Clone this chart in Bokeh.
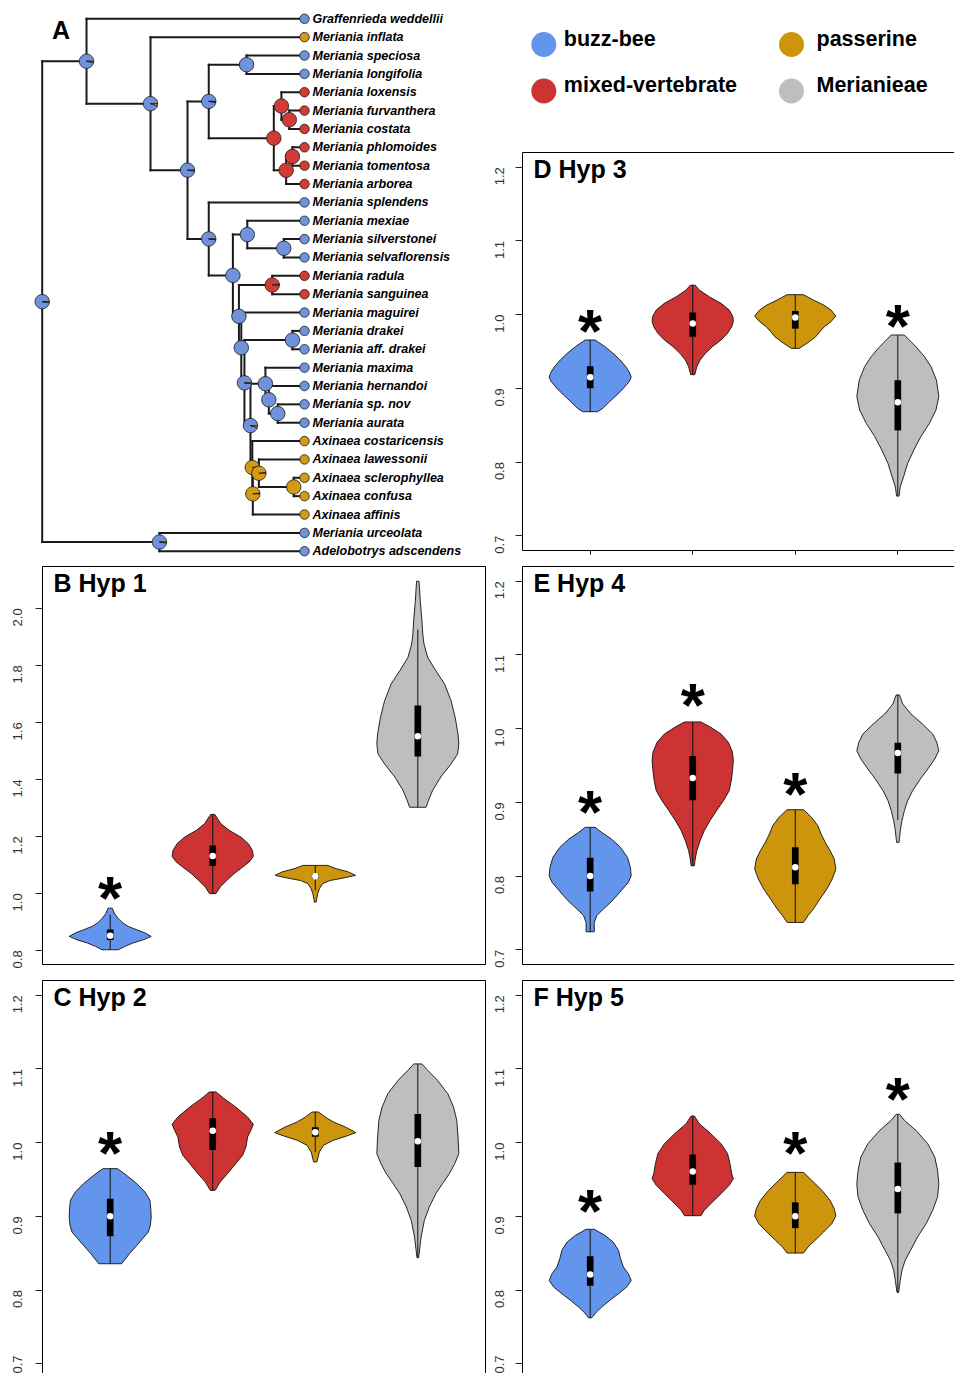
import math
from bokeh.plotting import figure
from bokeh.layouts import row, column
from bokeh.models import Range1d, LinearAxis, FixedTicker, ColumnDataSource
from bokeh.core.properties import value
from bokeh.embed import file_html
from bokeh.resources import INLINE

FONT = "Liberation Sans"

# ---------------------------------------------------------------- groups
group_names = ["buzz-bee", "mixed-vertebrate", "passerine", "Merianieae"]
group_colors = ["#6495ED", "#CD3333", "#CD950C", "#BEBEBE"]
categories = [1, 2, 3, 4]

# ---------------------------------------------------------------- tree data (panel A)
tip_names = [
    "Graffenrieda weddellii", "Meriania inflata", "Meriania speciosa", "Meriania longifolia",
    "Meriania loxensis", "Meriania furvanthera", "Meriania costata", "Meriania phlomoides",
    "Meriania tomentosa", "Meriania arborea", "Meriania splendens", "Meriania mexiae",
    "Meriania silverstonei", "Meriania selvaflorensis", "Meriania radula", "Meriania sanguinea",
    "Meriania maguirei", "Meriania drakei", "Meriania aff. drakei", "Meriania maxima",
    "Meriania hernandoi", "Meriania sp. nov", "Meriania aurata", "Axinaea costaricensis",
    "Axinaea lawessonii", "Axinaea sclerophyllea", "Axinaea confusa", "Axinaea affinis",
    "Meriania urceolata", "Adelobotrys adscendens",
]
# 0 = buzz-bee, 1 = mixed-vertebrate, 2 = passerine
tip_states = [0, 2, 0, 0, 1, 1, 1, 1, 1, 1, 0, 0, 0, 0, 1, 1, 0, 0, 0, 0, 0, 0, 0, 2, 2, 2, 2, 2, 0, 0]

# internal nodes: name, children (tips are "t<index>"), depth (root=0, tips=1), state probs [bee, vert, passerine]
node_names = ["root", "n1", "n2", "n3", "n4", "n6", "n7", "n8", "n10", "n9", "n11", "n5", "n12", "n13",
              "n13b", "n14", "n15", "n16", "n17", "n23", "n18", "n24", "n25", "n26", "n19", "n20",
              "n21", "n22", "nout"]
node_children = [
    ["n1", "nout"], ["t1", "n2"], ["t2", "n3"], ["n4", "n5"], ["n6", "n7"], ["t3", "t4"],
    ["n8", "n9"], ["t5", "n10"], ["t6", "t7"], ["n11", "t10"], ["t8", "t9"], ["t11", "n12"],
    ["n13", "n14"], ["t12", "n13b"], ["t13", "t14"], ["n15", "n16"], ["t15", "t16"],
    ["t17", "n17"], ["n23", "n18"], ["t18", "t19"], ["n24", "n19"], ["t20", "n25"],
    ["t21", "n26"], ["t22", "t23"], ["t24", "n20"], ["n21", "t28"], ["t25", "n22"],
    ["t26", "t27"], ["t29", "t30"],
]
node_depth = [0.0, 0.169, 0.413, 0.554, 0.635, 0.779, 0.883, 0.912, 0.942, 0.930, 0.954, 0.635,
              0.727, 0.782, 0.921, 0.750, 0.877, 0.759, 0.771, 0.954, 0.794, 0.851, 0.864,
              0.898, 0.801, 0.803, 0.826, 0.959, 0.447]
node_pie = [
    [0.98, 0.0, 0.02], [0.97, 0.0, 0.03], [0.95, 0.0, 0.05], [0.98, 0.0, 0.02], [0.98, 0.01, 0.01],
    [1, 0, 0], [0, 1, 0], [0, 1, 0], [0, 1, 0], [0, 1, 0], [0, 1, 0], [0.98, 0.0, 0.02],
    [1, 0, 0], [1, 0, 0], [1, 0, 0], [1, 0, 0], [0.02, 0.98, 0.0], [1, 0, 0], [0.98, 0.0, 0.02],
    [1, 0, 0], [0.95, 0.0, 0.05], [1, 0, 0], [1, 0, 0], [1, 0, 0], [0.02, 0.0, 0.98],
    [0.02, 0.0, 0.98], [0.02, 0.0, 0.98], [0, 0, 1], [0.98, 0.0, 0.02],
]

# ---------------------------------------------------------------- violin data
# outlines: value along y, relative density (1 = widest point); box stats per group
B_y = [
    [0.802, 0.814, 0.826, 0.837, 0.849, 0.861, 0.872, 0.884, 0.896, 0.911, 0.928, 0.948],
    [0.999, 1.022, 1.045, 1.069, 1.092, 1.110, 1.129, 1.150, 1.174, 1.197, 1.221, 1.244, 1.277],
    [0.969, 0.999, 1.016, 1.034, 1.045, 1.055, 1.063, 1.075, 1.086, 1.098],
    [1.302, 1.326, 1.361, 1.408, 1.454, 1.489, 1.524, 1.559, 1.618, 1.676, 1.735, 1.781, 1.828,
     1.875, 1.910, 1.957, 2.027, 2.095],
]
B_d = [
    [0.20, 0.36, 0.56, 0.81, 1.00, 0.85, 0.65, 0.44, 0.31, 0.20, 0.11, 0.05],
    [0.08, 0.18, 0.34, 0.52, 0.73, 0.89, 0.99, 0.97, 0.87, 0.69, 0.40, 0.20, 0.05],
    [0.02, 0.06, 0.10, 0.18, 0.36, 0.73, 0.98, 0.81, 0.52, 0.30],
    [0.20, 0.26, 0.36, 0.56, 0.81, 0.97, 1.00, 0.98, 0.91, 0.81, 0.65, 0.44, 0.24, 0.15, 0.12,
     0.10, 0.06, 0.03],
]
B_lo = [0.802, 0.999, 1.010, 1.302]
B_q1 = [0.836, 1.096, 1.051, 1.480]
B_med = [0.851, 1.131, 1.060, 1.551]
B_q3 = [0.873, 1.168, 1.068, 1.659]
B_hi = [0.925, 1.277, 1.098, 1.925]
B_star_groups = [1]
B_star_y = [1.016]

C_y = [
    [0.8357, 0.8493, 0.8606, 0.8697, 0.8787, 0.8878, 0.8991, 0.9104, 0.9217, 0.9330, 0.9443, 0.9557, 0.9647],
    [0.9353, 0.9466, 0.9579, 0.9715, 0.9828, 0.9941, 1.0077, 1.0167, 1.0249, 1.0348, 1.0484, 1.0597, 1.0688],
    [0.9738, 0.9873, 0.9964, 1.0032, 1.0091, 1.0136, 1.0213, 1.0281, 1.0348, 1.0416],
    [0.8439, 0.8719, 0.8946, 0.9127, 0.9308, 0.9443, 0.9579, 0.9715, 0.9851, 1.0077, 1.0303, 1.0484,
     1.0665, 1.0846, 1.0982, 1.1068],
]
C_d = [
    [0.28, 0.47, 0.65, 0.79, 0.93, 0.98, 1.00, 0.99, 0.97, 0.85, 0.65, 0.40, 0.18],
    [0.06, 0.18, 0.36, 0.56, 0.73, 0.81, 0.85, 0.93, 0.99, 0.85, 0.56, 0.28, 0.08],
    [0.04, 0.10, 0.20, 0.44, 0.77, 0.99, 0.73, 0.44, 0.24, 0.08],
    [0.02, 0.08, 0.16, 0.28, 0.44, 0.60, 0.77, 0.90, 1.00, 0.98, 0.95, 0.87, 0.73, 0.48, 0.24, 0.10],
]
C_lo = [0.836, 0.935, 0.987, 0.844]
C_q1 = [0.873, 0.990, 1.008, 0.967]
C_med = [0.900, 1.016, 1.014, 1.002]
C_q3 = [0.924, 1.033, 1.021, 1.039]
C_hi = [0.965, 1.069, 1.042, 1.107]
C_star_groups = [1]
C_star_y = [0.998]

D_y = [
    [0.8683, 0.8729, 0.8819, 0.8910, 0.9000, 0.9091, 0.9149, 0.9204, 0.9294, 0.9385, 0.9475, 0.9566, 0.9656],
    [0.9186, 0.9294, 0.9385, 0.9475, 0.9566, 0.9656, 0.9747, 0.9837, 0.9905, 0.9973, 1.0063, 1.0154,
     1.0244, 1.0335, 1.0400],
    [0.9543, 0.9633, 0.9701, 0.9769, 0.9837, 0.9905, 0.9982, 1.0063, 1.0131, 1.0199, 1.0271],
    [0.7538, 0.7665, 0.7801, 0.7982, 0.8163, 0.8344, 0.8525, 0.8706, 0.8887, 0.9113, 0.9294, 0.9430,
     0.9566, 0.9656, 0.9724],
]
D_d = [
    [0.18, 0.31, 0.47, 0.65, 0.81, 0.95, 1.00, 0.97, 0.87, 0.73, 0.56, 0.36, 0.12],
    [0.05, 0.10, 0.18, 0.31, 0.48, 0.69, 0.85, 0.95, 0.99, 0.98, 0.89, 0.69, 0.40, 0.16, 0.06],
    [0.10, 0.34, 0.50, 0.60, 0.71, 0.87, 0.99, 0.87, 0.69, 0.44, 0.20],
    [0.03, 0.06, 0.14, 0.24, 0.39, 0.56, 0.77, 0.93, 1.00, 0.94, 0.81, 0.65, 0.44, 0.28, 0.16],
]
D_lo = [0.868, 0.919, 0.954, 0.754]
D_q1 = [0.900, 0.970, 0.981, 0.843]
D_med = [0.915, 0.988, 0.996, 0.881]
D_q3 = [0.930, 1.003, 1.005, 0.911]
D_hi = [0.966, 1.040, 1.027, 0.972]
D_star_groups = [1, 4]
D_star_y = [0.990, 0.997]

E_y = [
    [0.7244, 0.7371, 0.7462, 0.7552, 0.7643, 0.7733, 0.7824, 0.7914, 0.8004, 0.8118, 0.8253, 0.8389,
     0.8502, 0.8593, 0.8661],
    [0.8140, 0.8231, 0.8344, 0.8480, 0.8615, 0.8751, 0.8887, 0.9023, 0.9158, 0.9294, 0.9430, 0.9566,
     0.9679, 0.9814, 0.9928, 1.0018, 1.0091],
    [0.7371, 0.7462, 0.7552, 0.7688, 0.7824, 0.7959, 0.8095, 0.8231, 0.8344, 0.8457, 0.8570, 0.8683,
     0.8796, 0.8900],
    [0.8457, 0.8615, 0.8751, 0.8887, 0.9023, 0.9158, 0.9317, 0.9452, 0.9588, 0.9701, 0.9814, 0.9928,
     1.0063, 1.0199, 1.0335, 1.0457],
]
E_d = [
    [0.10, 0.10, 0.16, 0.32, 0.50, 0.65, 0.79, 0.93, 1.00, 0.98, 0.91, 0.74, 0.52, 0.28, 0.12],
    [0.04, 0.06, 0.10, 0.18, 0.28, 0.42, 0.58, 0.75, 0.89, 0.94, 0.97, 0.99, 0.97, 0.87, 0.69, 0.44, 0.20],
    [0.20, 0.31, 0.44, 0.60, 0.77, 0.90, 0.99, 0.95, 0.85, 0.73, 0.63, 0.55, 0.40, 0.20],
    [0.03, 0.06, 0.10, 0.16, 0.24, 0.36, 0.55, 0.73, 0.90, 1.00, 0.95, 0.85, 0.60, 0.32, 0.12, 0.04],
]
E_lo = [0.724, 0.814, 0.737, 0.876]
E_q1 = [0.779, 0.903, 0.789, 0.939]
E_med = [0.800, 0.933, 0.812, 0.967]
E_q3 = [0.825, 0.963, 0.839, 0.981]
E_hi = [0.866, 1.009, 0.890, 1.046]
E_star_groups = [1, 2, 3]
E_star_y = [0.899, 1.044, 0.924]

F_y = [
    [0.7624, 0.7701, 0.7769, 0.7860, 0.7950, 0.8041, 0.8131, 0.8222, 0.8312, 0.8426, 0.8539, 0.8652,
     0.8742, 0.8824],
    [0.9009, 0.9081, 0.9172, 0.9308, 0.9421, 0.9511, 0.9579, 0.9715, 0.9851, 0.9986, 1.0122, 1.0258, 1.0362],
    [0.8502, 0.8584, 0.8674, 0.8787, 0.8900, 0.9005, 0.9104, 0.9217, 0.9353, 0.9489, 0.9597],
    [0.7968, 0.8131, 0.8267, 0.8403, 0.8538, 0.8719, 0.8900, 0.9081, 0.9262, 0.9443, 0.9624, 0.9805,
     0.9986, 1.0167, 1.0303, 1.0385],
]
F_d = [
    [0.04, 0.15, 0.28, 0.48, 0.69, 0.89, 1.00, 0.93, 0.81, 0.74, 0.69, 0.56, 0.36, 0.10],
    [0.20, 0.28, 0.44, 0.69, 0.89, 0.99, 0.95, 0.91, 0.85, 0.69, 0.44, 0.16, 0.04],
    [0.20, 0.31, 0.48, 0.69, 0.89, 0.99, 0.95, 0.85, 0.65, 0.40, 0.20],
    [0.02, 0.06, 0.10, 0.18, 0.31, 0.48, 0.69, 0.85, 0.97, 1.00, 0.97, 0.90, 0.73, 0.44, 0.16, 0.04],
]
F_lo = [0.762, 0.901, 0.850, 0.797]
F_q1 = [0.806, 0.943, 0.884, 0.904]
F_med = [0.821, 0.961, 0.900, 0.937]
F_q3 = [0.846, 0.984, 0.919, 0.973]
F_hi = [0.882, 1.036, 0.960, 1.038]
F_star_groups = [1, 3, 4]
F_star_y = [0.919, 0.998, 1.072]

B_ticks = [0.8, 1.0, 1.2, 1.4, 1.6, 1.8, 2.0]
B_tick_labels = ["0.8", "1.0", "1.2", "1.4", "1.6", "1.8", "2.0"]
H_ticks = [0.7, 0.8, 0.9, 1.0, 1.1, 1.2]
H_tick_labels = ["0.7", "0.8", "0.9", "1.0", "1.1", "1.2"]
H_ylim = (0.7, 1.2)

# ---------------------------------------------------------------- layout constants
WEX = 0.8          # full violin width (x units)
BOXW = 0.065       # width of IQR box
EXT = 0.04         # R axis extension
XLIM = (0.5, 4.5)
FRAME_H = 398      # full frame height of a violin panel
LEFT_W = 486       # left column width
RIGHT_W = 954 - LEFT_W
LEFT_FRAME_W = 443
RIGHT_INSET = 36
RIGHT_FRAME_W = RIGHT_W - RIGHT_INSET
STAR_SIZE = 62
BASE_SHIFT = 0.4   # empirical drop of 'alphabetic' text in em


def ext(lo, hi):
    d = (hi - lo) * EXT
    return lo - d, hi + d


XR_FULL = ext(*XLIM)
PX_PER_X = LEFT_FRAME_W / (XR_FULL[1] - XR_FULL[0])
XR_RIGHT = (XR_FULL[0], XR_FULL[0] + RIGHT_FRAME_W / PX_PER_X)
YR_H = ext(*H_ylim)
PX_PER_Y = FRAME_H / (YR_H[1] - YR_H[0])


def line_axis(ticks=None, tick_out=0):
    t = ticks or []
    ax = LinearAxis(ticker=FixedTicker(ticks=t),
                    axis_line_color="black", axis_line_width=1,
                    major_tick_line_color="black" if t else None,
                    major_tick_out=tick_out, major_tick_in=0,
                    minor_tick_line_color=None, minor_tick_out=0, minor_tick_in=0,
                    major_label_text_font_size="0px", major_label_standoff=0,
                    major_label_overrides={v: "" for v in t})
    return ax


def make_panel(width, height, borders, xr, yr, ticks, tick_labels, oy, od, lo, q1, med, q3, hi,
               star_groups, star_y, title, right_border, bottom, standoff):
    left, right, top, bot = borders
    p = figure(width=width, height=height, x_range=Range1d(*xr), y_range=Range1d(*yr),
               x_axis_location=None, y_axis_location="left",
               min_border_left=left, min_border_right=right, min_border_top=top,
               min_border_bottom=bot, output_backend="svg", toolbar_location=None)
    p.grid.visible = False
    p.outline_line_color = None
    p.background_fill_color = "white"
    p.border_fill_color = "white"
    ya = p.yaxis[0]
    ya.ticker = FixedTicker(ticks=ticks)
    ya.major_label_overrides = {t: s for t, s in zip(ticks, tick_labels)}
    ya.major_label_orientation = math.pi / 2
    ya.major_tick_out = 7
    ya.major_tick_in = 0
    ya.major_tick_line_color = "#222222"
    ya.minor_tick_line_color = None
    ya.axis_line_color = "black"
    ya.major_label_text_font = FONT
    ya.major_label_text_font_size = "13px"
    ya.major_label_text_color = "#333333"
    ya.major_label_standoff = standoff
    p.add_layout(line_axis(), "above")
    if right_border:
        p.add_layout(line_axis(), "right")
    if bottom == "line":
        p.add_layout(line_axis(), "below")
    elif bottom == "ticks":
        p.add_layout(line_axis(categories, 4), "below")

    xs, ys = [], []
    for c, yv, dv in zip(categories, oy, od):
        hw = [WEX / 2 * d for d in dv]
        xs.append([c + h for h in hw] + [c - h for h in reversed(hw)])
        ys.append(list(yv) + list(reversed(yv)))
    vsrc = ColumnDataSource(dict(xs=xs, ys=ys, color=group_colors))
    p.patches(xs="xs", ys="ys", fill_color="color", line_color="#111111", line_width=0.9, source=vsrc)
    bsrc = ColumnDataSource(dict(x=categories, lo=lo, hi=hi, q1=q1, q3=q3, med=med))
    p.segment(x0="x", y0="lo", x1="x", y1="hi", line_color="#111111", line_width=1, source=bsrc)
    p.vbar(x="x", width=BOXW, bottom="q1", top="q3", fill_color="black", line_color=None, source=bsrc)
    p.scatter(x="x", y="med", size=6.5, fill_color="white", line_color=None, source=bsrc)

    ssrc = ColumnDataSource(dict(x=[categories[g - 1] for g in star_groups], y=star_y,
                                 t=["*"] * len(star_groups)))
    p.text(x="x", y="y", text="t", source=ssrc, text_font=value(FONT), text_font_style="bold",
           text_font_size=f"{STAR_SIZE}px", text_align="center", text_baseline="alphabetic",
           y_offset=(0.57 - BASE_SHIFT) * STAR_SIZE - 2, text_color="black")
    p.text(x=[xr[0]], y=[yr[1]], text=[title], x_offset=11, y_offset=26.5 - BASE_SHIFT * 25,
           text_font=value(FONT), text_font_style="bold", text_font_size="25px",
           text_baseline="alphabetic", text_align="left", text_color="black")
    return p


# ---------------------------------------------------------------- panel B range from data
allB = [v for ys in B_y for v in ys]
YR_B = ext(min(allB), max(allB))

# bottom row panels are cut at the bottom of the page
CUT_FRAME_H = 393
YR_CUT = (YR_H[1] - CUT_FRAME_H / PX_PER_Y, YR_H[1])

LB = (42, LEFT_W - 42 - LEFT_FRAME_W)
pB = make_panel(LEFT_W, 414, (LB[0], LB[1], 6, 10), XR_FULL, YR_B, B_ticks, B_tick_labels,
                B_y, B_d, B_lo, B_q1, B_med, B_q3, B_hi, B_star_groups, B_star_y, "B Hyp 1",
                True, "line", 18)
pC = make_panel(LEFT_W, 399, (LB[0], LB[1], 6, 0), XR_FULL, YR_CUT, H_ticks, H_tick_labels,
                C_y, C_d, C_lo, C_q1, C_med, C_q3, C_hi, C_star_groups, C_star_y, "C Hyp 2",
                True, None, 18)
pD = make_panel(RIGHT_W, 412, (RIGHT_INSET, 0, 4, 10), XR_RIGHT, YR_H, H_ticks, H_tick_labels,
                D_y, D_d, D_lo, D_q1, D_med, D_q3, D_hi, D_star_groups, D_star_y, "D Hyp 3",
                False, "ticks", 16)
pE = make_panel(RIGHT_W, 414, (RIGHT_INSET, 0, 6, 10), XR_RIGHT, YR_H, H_ticks, H_tick_labels,
                E_y, E_d, E_lo, E_q1, E_med, E_q3, E_hi, E_star_groups, E_star_y, "E Hyp 4",
                False, "line", 16)
pF = make_panel(RIGHT_W, 399, (RIGHT_INSET, 0, 6, 0), XR_RIGHT, YR_CUT, H_ticks, H_tick_labels,
                F_y, F_d, F_lo, F_q1, F_med, F_q3, F_hi, F_star_groups, F_star_y, "F Hyp 5",
                False, None, 16)

# ---------------------------------------------------------------- tree panel
TREE_W, TREE_H = LEFT_W, 560
PX_PER_DEPTH = 262.3
ROOT_PX = 41.7
TIP_SP = 18.36
TIP1_PX = 18.3
tx0 = -ROOT_PX / PX_PER_DEPTH
ty_top = 1 - TIP1_PX / TIP_SP
ty_bot = 1 + (TREE_H - TIP1_PX) / TIP_SP
tree = figure(width=TREE_W, height=TREE_H, x_range=Range1d(tx0, tx0 + TREE_W / PX_PER_DEPTH),
              y_range=Range1d(ty_bot, ty_top), x_axis_location=None, y_axis_location=None,
              min_border=0, output_backend="svg", toolbar_location=None)
tree.grid.visible = False
tree.outline_line_color = None

TREE_COLORS = ["#6F92DA", "#D33B36", "#D29A16"]
pos = {}
for i, n in enumerate(tip_names):
    pos[f"t{i + 1}"] = (1.0, float(i + 1))
idx = {n: k for k, n in enumerate(node_names)}


def place(name):
    if name in pos:
        return pos[name]
    k = idx[name]
    ch = [place(c) for c in node_children[k]]
    y = (ch[0][1] + ch[-1][1]) / 2.0
    pos[name] = (node_depth[k], y)
    return pos[name]


place("root")
vx0, vy0, vy1 = [], [], []
hx0, hx1, hy = [], [], []
for k, n in enumerate(node_names):
    x, y = pos[n]
    cys = [pos[c][1] for c in node_children[k]]
    vx0.append(x); vy0.append(min(cys)); vy1.append(max(cys))
    for c in node_children[k]:
        hx0.append(x); hx1.append(pos[c][0]); hy.append(pos[c][1])
tree.segment(x0=vx0, y0=vy0, x1=vx0, y1=vy1, line_color="#1a1a1a", line_width=2, line_cap="square")
tree.segment(x0=hx0, y0=hy, x1=hx1, y1=hy, line_color="#1a1a1a", line_width=2, line_cap="square")

# node pies
wx, wy, ws, we, wc = [], [], [], [], []
cx, cy, cc = [], [], []
for k, n in enumerate(node_names):
    x, y = pos[n]
    probs = node_pie[k]
    if max(probs) >= 1.0:
        cx.append(x); cy.append(y); cc.append(TREE_COLORS[probs.index(max(probs))])
        continue
    a = 0.0
    for s, pr in enumerate(probs):
        if pr <= 0:
            continue
        wx.append(x); wy.append(y); ws.append(a); we.append(a + pr * 2 * math.pi)
        wc.append(TREE_COLORS[s])
        a += pr * 2 * math.pi
tree.scatter(x=cx, y=cy, size=14.5, fill_color=cc, line_color="#1a1a1a", line_width=0.8)
tree.wedge(x=wx, y=wy, radius=7.2, radius_units="screen", start_angle=ws, end_angle=we,
           fill_color=wc, line_color="#1a1a1a", line_width=0.8)

tip_y = [pos[f"t{i + 1}"][1] for i in range(len(tip_names))]
tree.scatter(x=[1.0] * len(tip_names), y=tip_y, size=9.5,
             fill_color=[TREE_COLORS[s] for s in tip_states], line_color="#1a1a1a", line_width=0.8)
tree.text(x=[1.0] * len(tip_names), y=tip_y, text=tip_names, x_offset=8, text_baseline="middle",
          text_font=value(FONT), text_font_style="bold italic", text_font_size="12.5px",
          text_color="black")
tree.text(x=[tx0], y=[ty_top], text=["A"], x_offset=51.5, y_offset=39 - BASE_SHIFT * 25,
          text_font=value(FONT), text_font_style="bold", text_font_size="25px",
          text_baseline="alphabetic")

# ---------------------------------------------------------------- legend
LEG_H = 148
leg = figure(width=RIGHT_W, height=LEG_H, x_range=Range1d(LEFT_W + RIGHT_INSET, 954),
             y_range=Range1d(LEG_H, 0), x_axis_location=None, y_axis_location=None,
             min_border_left=RIGHT_INSET, min_border_right=0, min_border_top=0, min_border_bottom=0,
             output_backend="svg", toolbar_location=None)
leg.grid.visible = False
leg.outline_line_color = None
LEG_COL_X = [543.3, 791.0]
LEG_TEXT_X = [563.3, 816.0]
LEG_ROW_Y = [44.0, 90.5]
leg_col = [0, 0, 1, 1]
leg_row = [0, 1, 0, 1]
lx = [LEG_COL_X[c] for c in leg_col]
ly = [LEG_ROW_Y[r] for r in leg_row]
leg.scatter(x=lx, y=ly, size=25, fill_color=group_colors, line_color=None)
leg.text(x=[LEG_TEXT_X[c] for c in leg_col], y=ly, text=group_names,
         y_offset=3.0 - BASE_SHIFT * 21.5,
         text_font=value(FONT), text_font_style="bold", text_font_size="21.5px",
         text_baseline="alphabetic", text_color="black")

# ---------------------------------------------------------------- assemble
layout = column(
    row(tree, column(leg, pD)),
    row(pB, pE),
    row(pC, pF),
)
open("out.html", "w").write(file_html(layout, INLINE))
